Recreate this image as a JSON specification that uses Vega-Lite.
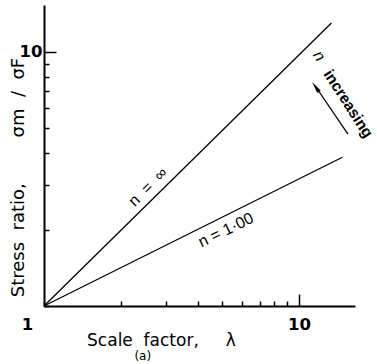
{
  "$schema": "https://vega.github.io/schema/vega-lite/v6.json",
  "width": 311,
  "height": 301,
  "autosize": {"type": "none"},
  "padding": {"left": 44, "top": 5, "right": 22, "bottom": 58},
  "background": "white",
  "config": {"view": {"stroke": null}, "font": "Liberation Sans"},
  "datasets": {
    "lines": [
      {"series": "n = ∞", "lambda": 1, "ratio": 1},
      {"series": "n = ∞", "lambda": 13.4, "ratio": 13.0},
      {"series": "n = 1·00", "lambda": 1, "ratio": 1},
      {"series": "n = 1·00", "lambda": 14.8, "ratio": 3.85}
    ],
    "labInf": [{"lambda": 2.56, "ratio": 2.94, "label": "n\u00a0\u00a0=\u00a0\u00a0∞"}],
    "labOne": [{"lambda": 5.17, "ratio": 1.99, "label": "n = 1·00"}],
    "labN": [{"lambda": 11.98, "ratio": 9.64, "label": "n"}],
    "labInc": [{"lambda": 15.6, "ratio": 6.25, "label": "increasing"}],
    "arrow": [{"lambda": 15.56, "ratio": 4.75, "lambda2": 11.9, "ratio2": 7.05}],
    "head": [{"lambda": 11.61, "ratio": 7.29}],
    "sub": [{"lambda": 2.44, "ratio": 0.636, "label": "(a)"}]
  },
  "encoding": {
    "x": {
      "field": "lambda",
      "type": "quantitative",
      "scale": {"type": "log", "domain": [1, 16.58]},
      "axis": {
        "values": [1, 2, 3, 4, 5, 6, 7, 8, 9, 10],
        "labelExpr": "datum.value == 10 ? '10' : datum.value == 1 ? '1' : ''",
        "grid": false,
        "domainColor": "black",
        "domainWidth": 2,
        "tickColor": "black",
        "tickWidth": 1.5,
        "tickSize": {"condition": {"test": "datum.value === 10", "value": -12}, "value": -5},
        "labelPadding": {"condition": {"test": "datum.value === 10", "value": 22}, "value": 15},
        "labelOffset": {"condition": {"test": "datum.value === 1", "value": -17}, "value": 0},
        "labelFont": "DejaVu Sans",
        "labelFontSize": 16.5,
        "labelFontWeight": "bold",
        "labelColor": "black",
        "labelFlush": false,
        "labelOverlap": false,
        "title": "Scale\u00a0\u00a0factor,\u00a0\u00a0\u00a0\u00a0\u00a0λ",
        "titleFont": "DejaVu Sans",
        "titleFontSize": 17,
        "titleFontWeight": "normal",
        "titleColor": "black",
        "titleX": 117,
        "titleY": 39,
        "titleBaseline": "alphabetic",
        "titleAlign": "center"
      }
    },
    "y": {
      "field": "ratio",
      "type": "quantitative",
      "scale": {"type": "log", "domain": [1, 15.3]},
      "axis": {
        "values": [1, 2, 3, 4, 5, 6, 7, 8, 9, 10],
        "labelExpr": "datum.value == 10 ? '10' : ''",
        "grid": false,
        "domainColor": "black",
        "domainWidth": 2,
        "tickColor": "black",
        "tickWidth": 1.5,
        "tickSize": {"condition": {"test": "datum.value === 10", "value": -12}, "value": -5},
        "labelPadding": {"condition": {"test": "datum.value === 10", "value": 14}, "value": 7},
        "labelFont": "DejaVu Sans",
        "labelFontSize": 16.5,
        "labelFontWeight": "bold",
        "labelColor": "black",
        "labelBaseline": "middle",
        "labelFlush": false,
        "labelOverlap": false,
        "title": "Stress\u00a0\u00a0ratio,\u00a0\u00a0\u00a0\u00a0\u00a0\u00a0\u00a0\u00a0σm\u00a0\u00a0/\u00a0\u00a0σF",
        "titleFont": "DejaVu Sans",
        "titleFontSize": 18,
        "titleFontWeight": "normal",
        "titleColor": "black",
        "titleAngle": -90,
        "titleX": -21,
        "titleY": 172,
        "titleBaseline": "alphabetic",
        "titleAlign": "center"
      }
    }
  },
  "layer": [
    {
      "data": {"name": "lines"},
      "mark": {"type": "line", "color": "black", "strokeWidth": 1.3},
      "encoding": {"detail": {"field": "series"}}
    },
    {
      "data": {"name": "labInf"},
      "mark": {"type": "text", "angle": -45, "fontSize": 16, "color": "black", "align": "center", "baseline": "middle"},
      "encoding": {"text": {"field": "label"}}
    },
    {
      "data": {"name": "labOne"},
      "mark": {"type": "text", "angle": -26, "fontSize": 16, "color": "black", "align": "center", "baseline": "middle"},
      "encoding": {"text": {"field": "label"}}
    },
    {
      "data": {"name": "labN"},
      "mark": {"type": "text", "angle": 57, "fontSize": 16, "fontStyle": "italic", "color": "black", "align": "center", "baseline": "middle"},
      "encoding": {"text": {"field": "label"}}
    },
    {
      "data": {"name": "labInc"},
      "mark": {"type": "text", "angle": 57, "fontSize": 15.5, "fontWeight": "bold", "color": "black", "align": "center", "baseline": "middle"},
      "encoding": {"text": {"field": "label"}}
    },
    {
      "data": {"name": "arrow"},
      "mark": {"type": "rule", "color": "black", "strokeWidth": 1.3},
      "encoding": {"x2": {"field": "lambda2"}, "y2": {"field": "ratio2"}}
    },
    {
      "data": {"name": "head"},
      "mark": {"type": "point", "shape": "M0,-1L0.35,1L-0.35,1Z", "filled": true, "color": "black", "opacity": 1, "size": 144, "angle": 324.6},
      "encoding": {}
    },
    {
      "data": {"name": "sub"},
      "mark": {"type": "text", "font": "DejaVu Sans", "fontSize": 12, "color": "black", "align": "center", "baseline": "middle"},
      "encoding": {"text": {"field": "label"}}
    }
  ]
}
